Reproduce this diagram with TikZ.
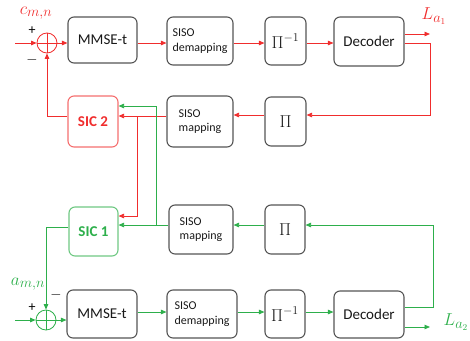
\documentclass[tikz,border=0pt]{standalone}
\usepackage{fontspec}
\setmainfont{Carlito}
\usetikzlibrary{arrows.meta}
\definecolor{cred}{RGB}{240,45,45}
\definecolor{cgreen}{RGB}{45,175,75}
\definecolor{credl}{RGB}{245,110,110}
\definecolor{cgreenl}{RGB}{110,200,130}
\definecolor{cbox}{RGB}{85,85,85}
\begin{document}
\begin{tikzpicture}[x=1pt,y=-1pt,
  blk/.style={draw=cbox, line width=1.1pt, rounded corners=6pt, inner sep=0pt, text=black!90},
  bigtxt/.style={font=\fontsize{15}{18}\selectfont},
  smalltxt/.style={font=\fontsize{12}{14.5}\selectfont, align=left},
  pitxt/.style={font=\fontsize{17}{19}\selectfont},
  ra/.style={draw=cred, line width=0.8pt, -{Triangle[length=5.5pt,width=4.5pt]}},
  ga/.style={draw=cgreen, line width=0.8pt, -{Triangle[length=5.5pt,width=4.5pt]}},
  sumnode/.style={circle, draw=#1, line width=0.8pt, minimum size=20, inner sep=0pt,
    path picture={\draw[#1, line width=0.8pt] (path picture bounding box.north) -- (path picture bounding box.south) (path picture bounding box.west) -- (path picture bounding box.east);}},
  lbl/.style={inner sep=0pt, font=\fontsize{19}{21}\selectfont}
]
\useasboundingbox (0,0) rectangle (470,340);

% ---- row 1 ----
\node[sumnode=cred] (s1) at (47,43) {};
\node[blk, bigtxt, minimum width=69, minimum height=46] (mm1) at (102.5,40) {MMSE-t};
\node[blk, smalltxt, minimum width=66, minimum height=48] (dm1) at (200,41) {SISO\\demapping};
\node[blk, pitxt, minimum width=41, minimum height=48] (pi1) at (285.5,41) {$\Pi^{-1}$};
\node[blk, bigtxt, minimum width=70, minimum height=49] (dec1) at (369,41.5) {Decoder};

% ---- row 2 ----
\node[blk, draw=credl, text=cred, font=\fontsize{15}{18}\selectfont\bfseries, minimum width=50, minimum height=51] (sic2) at (93,121.5) {SIC 2};
\node[blk, smalltxt, minimum width=66, minimum height=51] (map2) at (200,121.5) {SISO\\mapping};
\node[blk, pitxt, minimum width=41, minimum height=49] (pib2) at (285.5,121.5) {$\Pi$};

% ---- row 3 ----
\node[blk, draw=cgreenl, text=cgreen, font=\fontsize{15}{18}\selectfont\bfseries, minimum width=49, minimum height=49] (sic1) at (93.5,231.5) {SIC 1};
\node[blk, smalltxt, minimum width=64, minimum height=49] (map3) at (201,229.5) {SISO\\mapping};
\node[blk, pitxt, minimum width=40, minimum height=49] (pib3) at (285,229.5) {$\Pi$};

% ---- row 4 ----
\node[sumnode=cgreen] (s2) at (46,320) {};
\node[blk, bigtxt, minimum width=70, minimum height=48] (mm4) at (102,314) {MMSE-t};
\node[blk, smalltxt, minimum width=70, minimum height=48] (dm4) at (202,314) {SISO\\demapping};
\node[blk, pitxt, minimum width=40, minimum height=48] (pi4) at (285,314) {$\Pi^{-1}$};
\node[blk, bigtxt, minimum width=70, minimum height=47] (dec4) at (369,314.5) {Decoder};

% ---- labels ----
\node[lbl, text=cred] (lc) at (36,13) {$c_{m,n}$};
\node[lbl, text=cred] (la1) at (434,16) {$L_{a_1}$};
\node[lbl, text=cgreen] (la) at (28,284) {$a_{m,n}$};
\node[lbl, text=cgreen] (la2) at (456,322) {$L_{a_2}$};
\node[font=\fontsize{14}{16}\selectfont, inner sep=0pt] (p1) at (32,31) {+};
\node[font=\fontsize{14}{16}\selectfont, inner sep=0pt] (m1) at (32,60) {$-$};
\node[font=\fontsize{14}{16}\selectfont, inner sep=0pt] (m2) at (56,295) {$-$};
\node[font=\fontsize{14}{16}\selectfont, inner sep=0pt] (p2) at (32,308) {+};

% ---- coordinates ----
\coordinate (in1) at (15,43);
\coordinate (o1) at (430,34);
\coordinate (f1) at (430,115);
\coordinate (yR) at (0,116);
\coordinate (yG) at (0,106);
\coordinate (br) at (137,116);
\coordinate (yR3) at (0,216);
\coordinate (f2) at (433,225);
\coordinate (bg) at (156,225);
\coordinate (yS1) at (0,227);
\coordinate (in2) at (15,320);
\coordinate (y4) at (0,312);
\coordinate (yF4) at (0,307);
\coordinate (o2) at (430,327);

% ---- red connectors ----
\draw[ra] (in1) -- (s1.west);
\draw[ra] (s1.east) -- (s1.east -| mm1.west);
\draw[ra] (mm1.east |- s1) -- (dm1.west |- s1);
\draw[ra] (dm1.east |- s1) -- (pi1.west |- s1);
\draw[ra] (pi1.east |- s1) -- (dec1.west |- s1);
\draw[ra] (dec1.east |- o1) -- (o1);
\draw[ra] (dec1.east |- s1) -| (f1) -- (pib2.east |- f1);
\draw[ra] (pib2.west |- f1) -- (map2.east |- f1);
\draw[ra] (map2.west |- yR) -- (sic2.east |- yR);
\draw[ra] (br) |- (sic1.east |- yR3);
\draw[ra] (sic2.west |- yR) -| (s1.south);

% ---- green connectors ----
\draw[ga] (dec4.east |- yF4) -| (f2) -- (pib3.east |- f2);
\draw[ga] (pib3.west |- f2) -- (map3.east |- f2);
\draw[ga] (map3.west |- f2) -- (sic1.east |- f2);
\draw[ga] (bg) |- (sic2.east |- yG);
\draw[ga] (sic1.west |- yS1) -| (s2.north);
\draw[ga] (in2) -- (s2.west);
\draw[ga] (s2.east) -- (s2.east -| mm4.west);
\draw[ga] (mm4.east |- y4) -- (dm4.west |- y4);
\draw[ga] (dm4.east |- y4) -- (pi4.west |- y4);
\draw[ga] (pi4.east |- y4) -- (dec4.west |- y4);
\draw[ga] (dec4.east |- o2) -- (o2);
\end{tikzpicture}
\end{document}
